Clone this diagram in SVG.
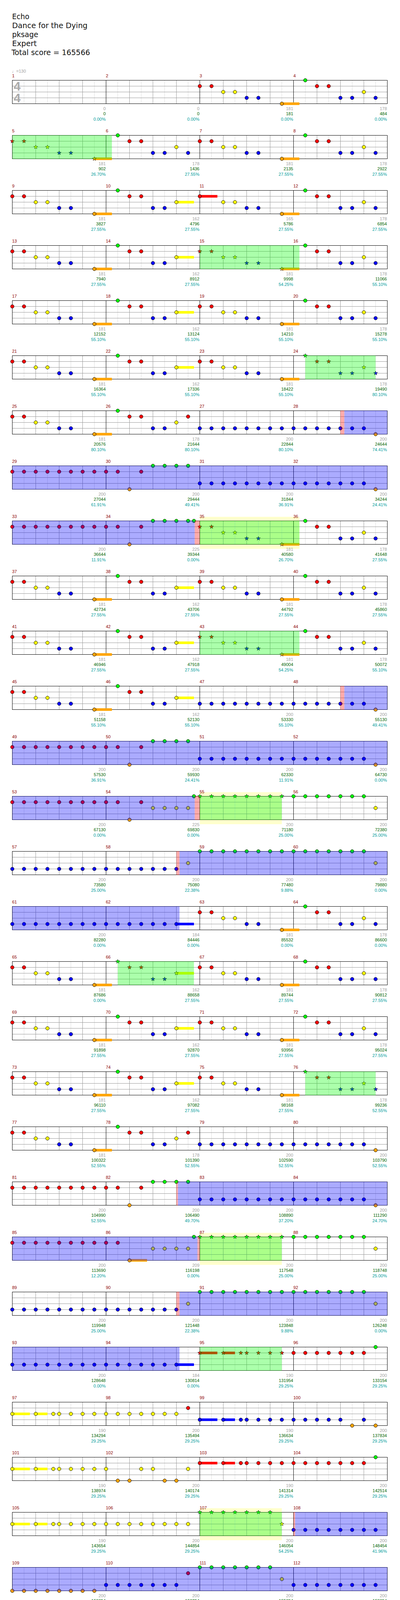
<svg xmlns="http://www.w3.org/2000/svg" width="1024" height="4435" viewBox="0 0 1024 4435">
<style>
circle{stroke:#000;stroke-width:1}
.st{stroke:#000;stroke-width:.7}
.g{fill:#0f0}.r{fill:#f00}.y{fill:#ff0}.b{fill:#00f}.o{fill:#ffa500}
.lt{stroke:#ddd;fill:none}.gr{stroke:#999;fill:none}.bk{stroke:#000;fill:none}
.sp{fill:#0f0;fill-opacity:.33}.so{fill:#00f;fill-opacity:.33}.pk{fill:#f00;fill-opacity:.33}.yb{fill:#ffffcc}
text{font-family:"Liberation Sans",Arial,sans-serif;font-size:11px}
.hd{font-family:"DejaVu Sans Condensed","DejaVu Sans",sans-serif;font-size:20px;fill:#111}
.n{fill:#8b0000}
.a{fill:#a0a0a0;text-anchor:end}
.s{fill:#006400}
.p{fill:#009c9c}
.ts{font-family:"Liberation Sans",Arial,sans-serif;font-weight:bold;font-size:32px;fill:#aaa}
.tp{fill:#a0a0a0}
</style>
<defs>
<circle id="G" r="4.5" class="g"/>
<circle id="R" cy="15" r="4.5" class="r"/>
<circle id="Y" cy="30" r="4.5" class="y"/>
<circle id="B" cy="45" r="4.5" class="b"/>
<circle id="O" cy="60" r="4.5" class="o"/>
<path id="sG" class="st g" d="M0-5.5L1.3-1.8 5.2-1.7 2.1.7 3.2 4.4 0 2.2-3.2 4.4-2.1.7-5.2-1.7-1.3-1.8Z"/>
<path id="sR" class="st r" transform="translate(0 15)" d="M0-5.5L1.3-1.8 5.2-1.7 2.1.7 3.2 4.4 0 2.2-3.2 4.4-2.1.7-5.2-1.7-1.3-1.8Z"/>
<path id="sY" class="st y" transform="translate(0 30)" d="M0-5.5L1.3-1.8 5.2-1.7 2.1.7 3.2 4.4 0 2.2-3.2 4.4-2.1.7-5.2-1.7-1.3-1.8Z"/>
<path id="sB" class="st b" transform="translate(0 45)" d="M0-5.5L1.3-1.8 5.2-1.7 2.1.7 3.2 4.4 0 2.2-3.2 4.4-2.1.7-5.2-1.7-1.3-1.8Z"/>
<path id="sO" class="st o" transform="translate(0 60)" d="M0-5.5L1.3-1.8 5.2-1.7 2.1.7 3.2 4.4 0 2.2-3.2 4.4-2.1.7-5.2-1.7-1.3-1.8Z"/>
<g id="grid4">
<path class="lt" d="M61.5 0V60M121.5 0V60M181.5 0V60M241.5 0V60M301.5 0V60M361.5 0V60M421.5 0V60M481.5 0V60M541.5 0V60M601.5 0V60M661.5 0V60M721.5 0V60M781.5 0V60M841.5 0V60M901.5 0V60M961.5 0V60"/>
<path class="gr" d="M91.5 0V60M151.5 0V60M211.5 0V60M331.5 0V60M391.5 0V60M451.5 0V60M571.5 0V60M631.5 0V60M691.5 0V60M811.5 0V60M871.5 0V60M931.5 0V60M31.5 15H991.5M31.5 30H991.5M31.5 45H991.5"/>
<path class="bk" d="M271.5 0V60M511.5 0V60M751.5 0V60"/>
<rect class="bk" x="31.5" width="960" height="60"/>
</g>
<g id="grid2">
<path class="lt" d="M61.5 0V60M121.5 0V60M181.5 0V60M241.5 0V60M301.5 0V60M361.5 0V60M421.5 0V60M481.5 0V60"/>
<path class="gr" d="M91.5 0V60M151.5 0V60M211.5 0V60M331.5 0V60M391.5 0V60M451.5 0V60M31.5 15H511.5M31.5 30H511.5M31.5 45H511.5"/>
<path class="bk" d="M271.5 0V60"/>
<rect class="bk" x="31.5" width="480" height="60"/>
</g>
<g id="B7"><use href="#B"/><use href="#B" x="30"/><use href="#B" x="60"/><use href="#B" x="90"/><use href="#B" x="120"/><use href="#B" x="150"/><use href="#B" x="180"/></g>
<g id="B8"><use href="#B7"/><use href="#B" x="210"/></g>
<g id="R7"><use href="#R"/><use href="#R" x="30"/><use href="#R" x="60"/><use href="#R" x="90"/><use href="#R" x="120"/><use href="#R" x="150"/><use href="#R" x="180"/></g>
<g id="R8"><use href="#R7"/><use href="#R" x="210"/></g>
<g id="G7"><use href="#G"/><use href="#G" x="30"/><use href="#G" x="60"/><use href="#G" x="90"/><use href="#G" x="120"/><use href="#G" x="150"/><use href="#G" x="180"/></g>
<g id="G8"><use href="#G7"/><use href="#G" x="210"/></g>
<g id="Y7"><use href="#Y"/><use href="#Y" x="30"/><use href="#Y" x="60"/><use href="#Y" x="90"/><use href="#Y" x="120"/><use href="#Y" x="150"/><use href="#Y" x="180"/></g>
<g id="Y8"><use href="#Y7"/><use href="#Y" x="210"/></g>
<g id="O8"><use href="#O"/><use href="#O" x="30"/><use href="#O" x="60"/><use href="#O" x="90"/><use href="#O" x="120"/><use href="#O" x="150"/><use href="#O" x="180"/><use href="#O" x="210"/></g>
<g id="sG7"><use href="#sG"/><use href="#sG" x="30"/><use href="#sG" x="60"/><use href="#sG" x="90"/><use href="#sG" x="120"/><use href="#sG" x="150"/><use href="#sG" x="180"/></g>
<g id="sG8"><use href="#sG7"/><use href="#sG" x="210"/></g>
<g id="P1"><use href="#R"/><use href="#R" x="30"/><use href="#Y" x="60"/><use href="#Y" x="90"/><use href="#B" x="120"/><use href="#B" x="150"/><rect class="o" x="210" y="56.7" width="45" height="6.6"/><use href="#O" x="210"/></g>
<g id="P1L"><use href="#R"/><use href="#R" x="30"/><use href="#Y" x="60"/><use href="#Y" x="90"/><use href="#B" x="120"/><use href="#B" x="150"/><rect class="o" x="210" y="56.7" width="90" height="6.6"/><use href="#O" x="210"/></g>
<g id="P1S"><use href="#sR"/><use href="#sR" x="30"/><use href="#sY" x="60"/><use href="#sY" x="90"/><use href="#sB" x="120"/><use href="#sB" x="150"/><rect class="o" x="210" y="56.7" width="45" height="6.6"/><use href="#sO" x="210"/></g>
<g id="P2"><use href="#G" x="30"/><use href="#R" x="60"/><use href="#R" x="90"/><use href="#B" x="120"/><use href="#B" x="150"/><use href="#Y" x="180"/><use href="#B" x="210"/></g>
<g id="P2S"><use href="#sG" x="30"/><use href="#sR" x="60"/><use href="#sR" x="90"/><use href="#sB" x="120"/><use href="#sB" x="150"/><use href="#sY" x="180"/><use href="#sB" x="210"/></g>
<g id="P3"><use href="#G" x="30"/><use href="#R" x="60"/><use href="#R" x="90"/><use href="#B" x="120"/><use href="#B" x="150"/><rect class="y" x="180" y="26.7" width="45" height="6.6"/><use href="#Y" x="180"/></g>
<g id="P3S"><use href="#sG" x="30"/><use href="#sR" x="60"/><use href="#sR" x="90"/><use href="#sB" x="120"/><use href="#sB" x="150"/><rect class="y" x="180" y="26.7" width="45" height="6.6"/><use href="#sY" x="180"/></g>
<g id="P4"><rect class="r" y="11.7" width="45" height="6.6"/><use href="#R"/><use href="#Y" x="60"/><use href="#Y" x="90"/><use href="#B" x="120"/><use href="#B" x="150"/><rect class="o" x="210" y="56.7" width="45" height="6.6"/><use href="#O" x="210"/></g>
<g id="P5"><use href="#G" x="30"/><use href="#R" x="60"/><use href="#R" x="90"/><use href="#B" x="120"/><use href="#B" x="150"/><use href="#Y" x="180"/><use href="#R" x="210"/></g>
<g id="P9"><use href="#R"/><use href="#R" x="30"/><use href="#O" x="60"/><use href="#R" x="90"/><use href="#G" x="120"/><use href="#G" x="150"/><use href="#G" x="180"/><use href="#G" x="210"/></g>
<g id="P10"><use href="#R"/><use href="#R" x="30"/><use href="#O" x="60"/><use href="#R" x="90"/><use href="#Y" x="120"/><use href="#Y" x="150"/><use href="#Y" x="180"/><use href="#Y" x="210"/><use href="#G" x="225"/></g>
<g id="P15"><use href="#B"/><use href="#B" x="30"/><use href="#B" x="60"/><use href="#B" x="90"/><use href="#B" x="120"/><use href="#B" x="150"/><rect class="b" x="180" y="41.7" width="45" height="6.6"/><use href="#B" x="180"/></g>
<g id="P16"><use href="#R"/><use href="#R" x="30"/><rect class="o" x="60" y="56.7" width="45" height="6.6"/><use href="#O" x="60"/><use href="#Y" x="120"/><use href="#Y" x="150"/><use href="#Y" x="180"/><use href="#Y" x="210"/><use href="#G" x="225"/></g>
<g id="P17"><rect class="r" y="11.7" width="45" height="6.6"/><use href="#sR"/><rect class="r" x="60" y="11.7" width="30" height="6.6"/><use href="#sR" x="60"/><use href="#sR" x="105"/><use href="#sR" x="120"/><use href="#sR" x="150"/><use href="#sR" x="180"/><use href="#sR" x="210"/></g>
<g id="P19"><rect class="y" y="26.7" width="45" height="6.6"/><use href="#Y"/><rect class="y" x="60" y="26.7" width="30" height="6.6"/><use href="#Y" x="60"/><use href="#Y" x="105"/><use href="#Y" x="120"/><use href="#Y" x="150"/><use href="#Y" x="180"/><use href="#Y" x="210"/></g>
<g id="P21"><rect class="b" y="41.7" width="45" height="6.6"/><use href="#B"/><rect class="b" x="60" y="41.7" width="30" height="6.6"/><use href="#B" x="60"/><use href="#B" x="105"/><use href="#B" x="120"/><use href="#B" x="150"/><use href="#B" x="180"/><use href="#B" x="210"/></g>
<g id="P22"><use href="#B"/><use href="#B" x="30"/><use href="#B" x="60"/><use href="#B" x="90"/><use href="#B" x="120"/><use href="#O" x="150"/><use href="#B" x="180"/><use href="#O" x="210"/></g>
<g id="P23"><use href="#Y"/><use href="#O" x="30"/><use href="#O" x="60"/><use href="#Y" x="90"/><use href="#Y" x="120"/><use href="#O" x="150"/><use href="#O" x="180"/><use href="#Y" x="210"/></g>
<g id="P24"><rect class="r" y="11.7" width="45" height="6.6"/><use href="#R"/><rect class="r" x="60" y="11.7" width="30" height="6.6"/><use href="#R" x="60"/><use href="#R" x="105"/><use href="#R" x="120"/><use href="#R" x="150"/><use href="#R" x="180"/><use href="#R" x="210"/></g>
<g id="P29"><use href="#B"/><use href="#B" x="30"/><use href="#B" x="60"/><use href="#B" x="90"/><use href="#B" x="120"/><use href="#Y" x="150"/><use href="#R" x="180"/><use href="#G" x="210"/></g>
</defs>
<rect width="1024" height="4435" fill="#fff"/>
<g id="header">
<text class="hd" x="31" y="49" textLength="44" lengthAdjust="spacingAndGlyphs">Echo</text>
<text class="hd" x="31" y="72" textLength="193" lengthAdjust="spacingAndGlyphs">Dance for the Dying</text>
<text class="hd" x="31" y="95" textLength="67" lengthAdjust="spacingAndGlyphs">pksage</text>
<text class="hd" x="31" y="118" textLength="63" lengthAdjust="spacingAndGlyphs">Expert</text>
<text class="hd" x="29.5" y="141" textLength="201" lengthAdjust="spacingAndGlyphs">Total score = 165566</text>
</g>
<g id="row1" transform="translate(0,205.5)">
<use href="#grid4"/>
<text class="tp" x="30.5" y="-20">♩=130</text>
<text class="ts" x="35" y="26.5">4</text><text class="ts" x="35" y="56.5">4</text>
<g id="m1"><text class="n" x="31" y="-8">1</text><text class="a" x="270.5" y="76">0<tspan class="s" x="270.5" dy="13.5">0</tspan><tspan class="p" x="270.5" dy="13.5">0.00%</tspan></text></g>
<g id="m2"><text class="n" x="271" y="-8">2</text><text class="a" x="510.5" y="76">0<tspan class="s" x="510.5" dy="13.5">0</tspan><tspan class="p" x="510.5" dy="13.5">0.00%</tspan></text></g>
<g id="m3"><use href="#P1" x="511.5"/><text class="n" x="511" y="-8">3</text><text class="a" x="750.5" y="76">181<tspan class="s" x="750.5" dy="13.5">181</tspan><tspan class="p" x="750.5" dy="13.5">0.00%</tspan></text></g>
<g id="m4"><use href="#P2" x="751.5"/><text class="n" x="751" y="-8">4</text><text class="a" x="990.5" y="76">178<tspan class="s" x="990.5" dy="13.5">484</tspan><tspan class="p" x="990.5" dy="13.5">0.00%</tspan></text></g>
</g>
<g id="row2" transform="translate(0,346.5)">
<use href="#grid4"/>
<g id="m5"><use href="#P1S" x="31.5"/><text class="n" x="31" y="-8">5</text><text class="a" x="270.5" y="76">181<tspan class="s" x="270.5" dy="13.5">902</tspan><tspan class="p" x="270.5" dy="13.5">26.70%</tspan></text></g>
<g id="m6"><use href="#P2" x="271.5"/><text class="n" x="271" y="-8">6</text><text class="a" x="510.5" y="76">178<tspan class="s" x="510.5" dy="13.5">1436</tspan><tspan class="p" x="510.5" dy="13.5">27.55%</tspan></text></g>
<g id="m7"><use href="#P1" x="511.5"/><text class="n" x="511" y="-8">7</text><text class="a" x="750.5" y="76">181<tspan class="s" x="750.5" dy="13.5">2135</tspan><tspan class="p" x="750.5" dy="13.5">27.55%</tspan></text></g>
<g id="m8"><use href="#P2" x="751.5"/><text class="n" x="751" y="-8">8</text><text class="a" x="990.5" y="76">178<tspan class="s" x="990.5" dy="13.5">2922</tspan><tspan class="p" x="990.5" dy="13.5">27.55%</tspan></text></g>
<rect class="sp" x="31.5" y="-.5" width="255" height="61"/>
</g>
<g id="row3" transform="translate(0,487.5)">
<use href="#grid4"/>
<g id="m9"><use href="#P1" x="31.5"/><text class="n" x="31" y="-8">9</text><text class="a" x="270.5" y="76">181<tspan class="s" x="270.5" dy="13.5">3827</tspan><tspan class="p" x="270.5" dy="13.5">27.55%</tspan></text></g>
<g id="m10"><use href="#P3" x="271.5"/><text class="n" x="271" y="-8">10</text><text class="a" x="510.5" y="76">162<tspan class="s" x="510.5" dy="13.5">4796</tspan><tspan class="p" x="510.5" dy="13.5">27.55%</tspan></text></g>
<g id="m11"><use href="#P4" x="511.5"/><text class="n" x="511" y="-8">11</text><text class="a" x="750.5" y="76">165<tspan class="s" x="750.5" dy="13.5">5786</tspan><tspan class="p" x="750.5" dy="13.5">27.55%</tspan></text></g>
<g id="m12"><use href="#P2" x="751.5"/><text class="n" x="751" y="-8">12</text><text class="a" x="990.5" y="76">178<tspan class="s" x="990.5" dy="13.5">6854</tspan><tspan class="p" x="990.5" dy="13.5">27.55%</tspan></text></g>
</g>
<g id="row4" transform="translate(0,628.5)">
<use href="#grid4"/>
<g id="m13"><use href="#P1" x="31.5"/><text class="n" x="31" y="-8">13</text><text class="a" x="270.5" y="76">181<tspan class="s" x="270.5" dy="13.5">7940</tspan><tspan class="p" x="270.5" dy="13.5">27.55%</tspan></text></g>
<g id="m14"><use href="#P3" x="271.5"/><text class="n" x="271" y="-8">14</text><text class="a" x="510.5" y="76">162<tspan class="s" x="510.5" dy="13.5">8912</tspan><tspan class="p" x="510.5" dy="13.5">27.55%</tspan></text></g>
<g id="m15"><use href="#P1S" x="511.5"/><text class="n" x="511" y="-8">15</text><text class="a" x="750.5" y="76">181<tspan class="s" x="750.5" dy="13.5">9998</tspan><tspan class="p" x="750.5" dy="13.5">54.25%</tspan></text></g>
<g id="m16"><use href="#P2" x="751.5"/><text class="n" x="751" y="-8">16</text><text class="a" x="990.5" y="76">178<tspan class="s" x="990.5" dy="13.5">11066</tspan><tspan class="p" x="990.5" dy="13.5">55.10%</tspan></text></g>
<rect class="sp" x="511.5" y="-.5" width="255" height="61"/>
</g>
<g id="row5" transform="translate(0,769.5)">
<use href="#grid4"/>
<g id="m17"><use href="#P1" x="31.5"/><text class="n" x="31" y="-8">17</text><text class="a" x="270.5" y="76">181<tspan class="s" x="270.5" dy="13.5">12152</tspan><tspan class="p" x="270.5" dy="13.5">55.10%</tspan></text></g>
<g id="m18"><use href="#P3" x="271.5"/><text class="n" x="271" y="-8">18</text><text class="a" x="510.5" y="76">162<tspan class="s" x="510.5" dy="13.5">13124</tspan><tspan class="p" x="510.5" dy="13.5">55.10%</tspan></text></g>
<g id="m19"><use href="#P1" x="511.5"/><text class="n" x="511" y="-8">19</text><text class="a" x="750.5" y="76">181<tspan class="s" x="750.5" dy="13.5">14210</tspan><tspan class="p" x="750.5" dy="13.5">55.10%</tspan></text></g>
<g id="m20"><use href="#P2" x="751.5"/><text class="n" x="751" y="-8">20</text><text class="a" x="990.5" y="76">178<tspan class="s" x="990.5" dy="13.5">15278</tspan><tspan class="p" x="990.5" dy="13.5">55.10%</tspan></text></g>
</g>
<g id="row6" transform="translate(0,910.5)">
<use href="#grid4"/>
<g id="m21"><use href="#P1" x="31.5"/><text class="n" x="31" y="-8">21</text><text class="a" x="270.5" y="76">181<tspan class="s" x="270.5" dy="13.5">16364</tspan><tspan class="p" x="270.5" dy="13.5">55.10%</tspan></text></g>
<g id="m22"><use href="#P3" x="271.5"/><text class="n" x="271" y="-8">22</text><text class="a" x="510.5" y="76">162<tspan class="s" x="510.5" dy="13.5">17336</tspan><tspan class="p" x="510.5" dy="13.5">55.10%</tspan></text></g>
<g id="m23"><use href="#P1" x="511.5"/><text class="n" x="511" y="-8">23</text><text class="a" x="750.5" y="76">181<tspan class="s" x="750.5" dy="13.5">18422</tspan><tspan class="p" x="750.5" dy="13.5">55.10%</tspan></text></g>
<g id="m24"><use href="#P2S" x="751.5"/><text class="n" x="751" y="-8">24</text><text class="a" x="990.5" y="76">178<tspan class="s" x="990.5" dy="13.5">19490</tspan><tspan class="p" x="990.5" dy="13.5">80.10%</tspan></text></g>
<rect class="sp" x="781.5" y="-.5" width="180" height="61"/>
</g>
<g id="row7" transform="translate(0,1051.5)">
<use href="#grid4"/>
<g id="m25"><use href="#P1" x="31.5"/><text class="n" x="31" y="-8">25</text><text class="a" x="270.5" y="76">181<tspan class="s" x="270.5" dy="13.5">20576</tspan><tspan class="p" x="270.5" dy="13.5">80.10%</tspan></text></g>
<g id="m26"><use href="#P5" x="271.5"/><text class="n" x="271" y="-8">26</text><text class="a" x="510.5" y="76">178<tspan class="s" x="510.5" dy="13.5">21644</tspan><tspan class="p" x="510.5" dy="13.5">80.10%</tspan></text></g>
<g id="m27"><use href="#B8" x="511.5"/><text class="n" x="511" y="-8">27</text><text class="a" x="750.5" y="76">200<tspan class="s" x="750.5" dy="13.5">22844</tspan><tspan class="p" x="750.5" dy="13.5">80.10%</tspan></text></g>
<g id="m28"><use href="#B7" x="751.5"/><use href="#O" x="961.5"/><text class="n" x="751" y="-8">28</text><text class="a" x="990.5" y="76">200<tspan class="s" x="990.5" dy="13.5">24644</tspan><tspan class="p" x="990.5" dy="13.5">74.41%</tspan></text></g>
<rect class="pk" x="871.5" y="-.5" width="10" height="61"/>
<rect class="so" x="881.5" y="-.5" width="110" height="61"/>
</g>
<g id="row8" transform="translate(0,1192.5)">
<use href="#grid4"/>
<g id="m29"><use href="#R8" x="31.5"/><text class="n" x="31" y="-8">29</text><text class="a" x="270.5" y="76">200<tspan class="s" x="270.5" dy="13.5">27044</tspan><tspan class="p" x="270.5" dy="13.5">61.91%</tspan></text></g>
<g id="m30"><use href="#P9" x="271.5"/><text class="n" x="271" y="-8">30</text><text class="a" x="510.5" y="76">200<tspan class="s" x="510.5" dy="13.5">29444</tspan><tspan class="p" x="510.5" dy="13.5">49.41%</tspan></text></g>
<g id="m31"><use href="#B8" x="511.5"/><text class="n" x="511" y="-8">31</text><text class="a" x="750.5" y="76">200<tspan class="s" x="750.5" dy="13.5">31844</tspan><tspan class="p" x="750.5" dy="13.5">36.91%</tspan></text></g>
<g id="m32"><use href="#B7" x="751.5"/><use href="#O" x="961.5"/><text class="n" x="751" y="-8">32</text><text class="a" x="990.5" y="76">200<tspan class="s" x="990.5" dy="13.5">34244</tspan><tspan class="p" x="990.5" dy="13.5">24.41%</tspan></text></g>
<rect class="so" x="31.5" y="-.5" width="960" height="61"/>
</g>
<g id="row9" transform="translate(0,1333.5)">
<rect class="yb" x="511.5" y="-10.5" width="255" height="82"/>
<use href="#grid4"/>
<g id="m33"><use href="#R8" x="31.5"/><text class="n" x="31" y="-8">33</text><text class="a" x="270.5" y="76">200<tspan class="s" x="270.5" dy="13.5">36644</tspan><tspan class="p" x="270.5" dy="13.5">11.91%</tspan></text></g>
<g id="m34"><use href="#P9" x="271.5"/><use href="#G" x="496.5"/><text class="n" x="271" y="-8">34</text><text class="a" x="510.5" y="76">225<tspan class="s" x="510.5" dy="13.5">39344</tspan><tspan class="p" x="510.5" dy="13.5">0.00%</tspan></text></g>
<g id="m35"><use href="#P1S" x="511.5"/><text class="n" x="511" y="-8">35</text><text class="a" x="750.5" y="76">181<tspan class="s" x="750.5" dy="13.5">40580</tspan><tspan class="p" x="750.5" dy="13.5">26.70%</tspan></text></g>
<g id="m36"><use href="#P2" x="751.5"/><text class="n" x="751" y="-8">36</text><text class="a" x="990.5" y="76">178<tspan class="s" x="990.5" dy="13.5">41648</tspan><tspan class="p" x="990.5" dy="13.5">27.55%</tspan></text></g>
<rect class="so" x="31.5" y="-.5" width="467" height="61"/>
<rect class="pk" x="498.5" y="-.5" width="13" height="61"/>
<rect class="sp" x="511.5" y="-.5" width="255" height="61"/>
</g>
<g id="row10" transform="translate(0,1474.5)">
<use href="#grid4"/>
<g id="m37"><use href="#P1" x="31.5"/><text class="n" x="31" y="-8">37</text><text class="a" x="270.5" y="76">181<tspan class="s" x="270.5" dy="13.5">42734</tspan><tspan class="p" x="270.5" dy="13.5">27.55%</tspan></text></g>
<g id="m38"><use href="#P3" x="271.5"/><text class="n" x="271" y="-8">38</text><text class="a" x="510.5" y="76">162<tspan class="s" x="510.5" dy="13.5">43706</tspan><tspan class="p" x="510.5" dy="13.5">27.55%</tspan></text></g>
<g id="m39"><use href="#P1" x="511.5"/><text class="n" x="511" y="-8">39</text><text class="a" x="750.5" y="76">181<tspan class="s" x="750.5" dy="13.5">44792</tspan><tspan class="p" x="750.5" dy="13.5">27.55%</tspan></text></g>
<g id="m40"><use href="#P2" x="751.5"/><text class="n" x="751" y="-8">40</text><text class="a" x="990.5" y="76">178<tspan class="s" x="990.5" dy="13.5">45860</tspan><tspan class="p" x="990.5" dy="13.5">27.55%</tspan></text></g>
</g>
<g id="row11" transform="translate(0,1615.5)">
<use href="#grid4"/>
<g id="m41"><use href="#P1" x="31.5"/><text class="n" x="31" y="-8">41</text><text class="a" x="270.5" y="76">181<tspan class="s" x="270.5" dy="13.5">46946</tspan><tspan class="p" x="270.5" dy="13.5">27.55%</tspan></text></g>
<g id="m42"><use href="#P3" x="271.5"/><text class="n" x="271" y="-8">42</text><text class="a" x="510.5" y="76">162<tspan class="s" x="510.5" dy="13.5">47918</tspan><tspan class="p" x="510.5" dy="13.5">27.55%</tspan></text></g>
<g id="m43"><use href="#P1S" x="511.5"/><text class="n" x="511" y="-8">43</text><text class="a" x="750.5" y="76">181<tspan class="s" x="750.5" dy="13.5">49004</tspan><tspan class="p" x="750.5" dy="13.5">54.25%</tspan></text></g>
<g id="m44"><use href="#P2" x="751.5"/><text class="n" x="751" y="-8">44</text><text class="a" x="990.5" y="76">178<tspan class="s" x="990.5" dy="13.5">50072</tspan><tspan class="p" x="990.5" dy="13.5">55.10%</tspan></text></g>
<rect class="sp" x="511.5" y="-.5" width="255" height="61"/>
</g>
<g id="row12" transform="translate(0,1756.5)">
<use href="#grid4"/>
<g id="m45"><use href="#P1" x="31.5"/><text class="n" x="31" y="-8">45</text><text class="a" x="270.5" y="76">181<tspan class="s" x="270.5" dy="13.5">51158</tspan><tspan class="p" x="270.5" dy="13.5">55.10%</tspan></text></g>
<g id="m46"><use href="#P3" x="271.5"/><text class="n" x="271" y="-8">46</text><text class="a" x="510.5" y="76">162<tspan class="s" x="510.5" dy="13.5">52130</tspan><tspan class="p" x="510.5" dy="13.5">55.10%</tspan></text></g>
<g id="m47"><use href="#B8" x="511.5"/><text class="n" x="511" y="-8">47</text><text class="a" x="750.5" y="76">200<tspan class="s" x="750.5" dy="13.5">53330</tspan><tspan class="p" x="750.5" dy="13.5">55.10%</tspan></text></g>
<g id="m48"><use href="#B7" x="751.5"/><use href="#O" x="961.5"/><text class="n" x="751" y="-8">48</text><text class="a" x="990.5" y="76">200<tspan class="s" x="990.5" dy="13.5">55130</tspan><tspan class="p" x="990.5" dy="13.5">49.41%</tspan></text></g>
<rect class="pk" x="871.5" y="-.5" width="10" height="61"/>
<rect class="so" x="881.5" y="-.5" width="110" height="61"/>
</g>
<g id="row13" transform="translate(0,1897.5)">
<use href="#grid4"/>
<g id="m49"><use href="#R8" x="31.5"/><text class="n" x="31" y="-8">49</text><text class="a" x="270.5" y="76">200<tspan class="s" x="270.5" dy="13.5">57530</tspan><tspan class="p" x="270.5" dy="13.5">36.91%</tspan></text></g>
<g id="m50"><use href="#P9" x="271.5"/><text class="n" x="271" y="-8">50</text><text class="a" x="510.5" y="76">200<tspan class="s" x="510.5" dy="13.5">59930</tspan><tspan class="p" x="510.5" dy="13.5">24.41%</tspan></text></g>
<g id="m51"><use href="#B8" x="511.5"/><text class="n" x="511" y="-8">51</text><text class="a" x="750.5" y="76">200<tspan class="s" x="750.5" dy="13.5">62330</tspan><tspan class="p" x="750.5" dy="13.5">11.91%</tspan></text></g>
<g id="m52"><use href="#B7" x="751.5"/><use href="#O" x="961.5"/><text class="n" x="751" y="-8">52</text><text class="a" x="990.5" y="76">200<tspan class="s" x="990.5" dy="13.5">64730</tspan><tspan class="p" x="990.5" dy="13.5">0.00%</tspan></text></g>
<rect class="so" x="31.5" y="-.5" width="960" height="61"/>
</g>
<g id="row14" transform="translate(0,2038.5)">
<rect class="yb" x="511.5" y="-10.5" width="210" height="82"/>
<use href="#grid4"/>
<g id="m53"><use href="#R8" x="31.5"/><text class="n" x="31" y="-8">53</text><text class="a" x="270.5" y="76">200<tspan class="s" x="270.5" dy="13.5">67130</tspan><tspan class="p" x="270.5" dy="13.5">0.00%</tspan></text></g>
<g id="m54"><use href="#P10" x="271.5"/><text class="n" x="271" y="-8">54</text><text class="a" x="510.5" y="76">225<tspan class="s" x="510.5" dy="13.5">69830</tspan><tspan class="p" x="510.5" dy="13.5">0.00%</tspan></text></g>
<g id="m55"><use href="#sG8" x="511.5"/><text class="n" x="511" y="-8">55</text><text class="a" x="750.5" y="76">200<tspan class="s" x="750.5" dy="13.5">71180</tspan><tspan class="p" x="750.5" dy="13.5">25.00%</tspan></text></g>
<g id="m56"><use href="#G7" x="751.5"/><use href="#Y" x="961.5"/><text class="n" x="751" y="-8">56</text><text class="a" x="990.5" y="76">200<tspan class="s" x="990.5" dy="13.5">72380</tspan><tspan class="p" x="990.5" dy="13.5">25.00%</tspan></text></g>
<rect class="so" x="31.5" y="-.5" width="467" height="61"/>
<rect class="pk" x="498.5" y="-.5" width="13" height="61"/>
<rect class="sp" x="511.5" y="-.5" width="210" height="61"/>
</g>
<g id="row15" transform="translate(0,2179.5)">
<use href="#grid4"/>
<g id="m57"><use href="#B8" x="31.5"/><text class="n" x="31" y="-8">57</text><text class="a" x="270.5" y="76">200<tspan class="s" x="270.5" dy="13.5">73580</tspan><tspan class="p" x="270.5" dy="13.5">25.00%</tspan></text></g>
<g id="m58"><use href="#B7" x="271.5"/><use href="#Y" x="481.5"/><text class="n" x="271" y="-8">58</text><text class="a" x="510.5" y="76">200<tspan class="s" x="510.5" dy="13.5">75080</tspan><tspan class="p" x="510.5" dy="13.5">22.38%</tspan></text></g>
<g id="m59"><use href="#G8" x="511.5"/><text class="n" x="511" y="-8">59</text><text class="a" x="750.5" y="76">200<tspan class="s" x="750.5" dy="13.5">77480</tspan><tspan class="p" x="750.5" dy="13.5">9.88%</tspan></text></g>
<g id="m60"><use href="#G7" x="751.5"/><use href="#Y" x="961.5"/><text class="n" x="751" y="-8">60</text><text class="a" x="990.5" y="76">200<tspan class="s" x="990.5" dy="13.5">79880</tspan><tspan class="p" x="990.5" dy="13.5">0.00%</tspan></text></g>
<rect class="pk" x="451.5" y="-.5" width="8" height="61"/>
<rect class="so" x="459.5" y="-.5" width="532" height="61"/>
</g>
<g id="row16" transform="translate(0,2320.5)">
<use href="#grid4"/>
<g id="m61"><use href="#B8" x="31.5"/><text class="n" x="31" y="-8">61</text><text class="a" x="270.5" y="76">200<tspan class="s" x="270.5" dy="13.5">82280</tspan><tspan class="p" x="270.5" dy="13.5">0.00%</tspan></text></g>
<g id="m62"><use href="#P15" x="271.5"/><text class="n" x="271" y="-8">62</text><text class="a" x="510.5" y="76">184<tspan class="s" x="510.5" dy="13.5">84446</tspan><tspan class="p" x="510.5" dy="13.5">0.00%</tspan></text></g>
<g id="m63"><use href="#P1" x="511.5"/><text class="n" x="511" y="-8">63</text><text class="a" x="750.5" y="76">181<tspan class="s" x="750.5" dy="13.5">85532</tspan><tspan class="p" x="750.5" dy="13.5">0.00%</tspan></text></g>
<g id="m64"><use href="#P2" x="751.5"/><text class="n" x="751" y="-8">64</text><text class="a" x="990.5" y="76">178<tspan class="s" x="990.5" dy="13.5">86600</tspan><tspan class="p" x="990.5" dy="13.5">0.00%</tspan></text></g>
<rect class="so" x="31.5" y="-.5" width="428" height="61"/>
</g>
<g id="row17" transform="translate(0,2461.5)">
<use href="#grid4"/>
<g id="m65"><use href="#P1" x="31.5"/><text class="n" x="31" y="-8">65</text><text class="a" x="270.5" y="76">181<tspan class="s" x="270.5" dy="13.5">87686</tspan><tspan class="p" x="270.5" dy="13.5">0.00%</tspan></text></g>
<g id="m66"><use href="#P3S" x="271.5"/><text class="n" x="271" y="-8">66</text><text class="a" x="510.5" y="76">162<tspan class="s" x="510.5" dy="13.5">88658</tspan><tspan class="p" x="510.5" dy="13.5">27.55%</tspan></text></g>
<g id="m67"><use href="#P1" x="511.5"/><text class="n" x="511" y="-8">67</text><text class="a" x="750.5" y="76">181<tspan class="s" x="750.5" dy="13.5">89744</tspan><tspan class="p" x="750.5" dy="13.5">27.55%</tspan></text></g>
<g id="m68"><use href="#P2" x="751.5"/><text class="n" x="751" y="-8">68</text><text class="a" x="990.5" y="76">178<tspan class="s" x="990.5" dy="13.5">90812</tspan><tspan class="p" x="990.5" dy="13.5">27.55%</tspan></text></g>
<rect class="sp" x="301.5" y="-.5" width="195" height="61"/>
</g>
<g id="row18" transform="translate(0,2602.5)">
<use href="#grid4"/>
<g id="m69"><use href="#P1" x="31.5"/><text class="n" x="31" y="-8">69</text><text class="a" x="270.5" y="76">181<tspan class="s" x="270.5" dy="13.5">91898</tspan><tspan class="p" x="270.5" dy="13.5">27.55%</tspan></text></g>
<g id="m70"><use href="#P3" x="271.5"/><text class="n" x="271" y="-8">70</text><text class="a" x="510.5" y="76">162<tspan class="s" x="510.5" dy="13.5">92870</tspan><tspan class="p" x="510.5" dy="13.5">27.55%</tspan></text></g>
<g id="m71"><use href="#P1" x="511.5"/><text class="n" x="511" y="-8">71</text><text class="a" x="750.5" y="76">181<tspan class="s" x="750.5" dy="13.5">93956</tspan><tspan class="p" x="750.5" dy="13.5">27.55%</tspan></text></g>
<g id="m72"><use href="#P2" x="751.5"/><text class="n" x="751" y="-8">72</text><text class="a" x="990.5" y="76">178<tspan class="s" x="990.5" dy="13.5">95024</tspan><tspan class="p" x="990.5" dy="13.5">27.55%</tspan></text></g>
</g>
<g id="row19" transform="translate(0,2743.5)">
<use href="#grid4"/>
<g id="m73"><use href="#P1" x="31.5"/><text class="n" x="31" y="-8">73</text><text class="a" x="270.5" y="76">181<tspan class="s" x="270.5" dy="13.5">96110</tspan><tspan class="p" x="270.5" dy="13.5">27.55%</tspan></text></g>
<g id="m74"><use href="#P3" x="271.5"/><text class="n" x="271" y="-8">74</text><text class="a" x="510.5" y="76">162<tspan class="s" x="510.5" dy="13.5">97082</tspan><tspan class="p" x="510.5" dy="13.5">27.55%</tspan></text></g>
<g id="m75"><use href="#P1" x="511.5"/><text class="n" x="511" y="-8">75</text><text class="a" x="750.5" y="76">181<tspan class="s" x="750.5" dy="13.5">98168</tspan><tspan class="p" x="750.5" dy="13.5">27.55%</tspan></text></g>
<g id="m76"><use href="#P2S" x="751.5"/><text class="n" x="751" y="-8">76</text><text class="a" x="990.5" y="76">178<tspan class="s" x="990.5" dy="13.5">99236</tspan><tspan class="p" x="990.5" dy="13.5">52.55%</tspan></text></g>
<rect class="sp" x="781.5" y="-.5" width="180" height="61"/>
</g>
<g id="row20" transform="translate(0,2884.5)">
<use href="#grid4"/>
<g id="m77"><use href="#P1" x="31.5"/><text class="n" x="31" y="-8">77</text><text class="a" x="270.5" y="76">181<tspan class="s" x="270.5" dy="13.5">100322</tspan><tspan class="p" x="270.5" dy="13.5">52.55%</tspan></text></g>
<g id="m78"><use href="#P5" x="271.5"/><text class="n" x="271" y="-8">78</text><text class="a" x="510.5" y="76">178<tspan class="s" x="510.5" dy="13.5">101390</tspan><tspan class="p" x="510.5" dy="13.5">52.55%</tspan></text></g>
<g id="m79"><use href="#B8" x="511.5"/><text class="n" x="511" y="-8">79</text><text class="a" x="750.5" y="76">200<tspan class="s" x="750.5" dy="13.5">102590</tspan><tspan class="p" x="750.5" dy="13.5">52.55%</tspan></text></g>
<g id="m80"><use href="#B7" x="751.5"/><use href="#O" x="961.5"/><text class="n" x="751" y="-8">80</text><text class="a" x="990.5" y="76">200<tspan class="s" x="990.5" dy="13.5">103790</tspan><tspan class="p" x="990.5" dy="13.5">52.55%</tspan></text></g>
</g>
<g id="row21" transform="translate(0,3025.5)">
<use href="#grid4"/>
<g id="m81"><use href="#R8" x="31.5"/><text class="n" x="31" y="-8">81</text><text class="a" x="270.5" y="76">200<tspan class="s" x="270.5" dy="13.5">104990</tspan><tspan class="p" x="270.5" dy="13.5">52.55%</tspan></text></g>
<g id="m82"><use href="#P9" x="271.5"/><text class="n" x="271" y="-8">82</text><text class="a" x="510.5" y="76">200<tspan class="s" x="510.5" dy="13.5">106490</tspan><tspan class="p" x="510.5" dy="13.5">49.70%</tspan></text></g>
<g id="m83"><use href="#B8" x="511.5"/><text class="n" x="511" y="-8">83</text><text class="a" x="750.5" y="76">200<tspan class="s" x="750.5" dy="13.5">108890</tspan><tspan class="p" x="750.5" dy="13.5">37.20%</tspan></text></g>
<g id="m84"><use href="#B7" x="751.5"/><use href="#O" x="961.5"/><text class="n" x="751" y="-8">84</text><text class="a" x="990.5" y="76">200<tspan class="s" x="990.5" dy="13.5">111290</tspan><tspan class="p" x="990.5" dy="13.5">24.70%</tspan></text></g>
<rect class="pk" x="451.5" y="-.5" width="4" height="61"/>
<rect class="so" x="455.5" y="-.5" width="536" height="61"/>
</g>
<g id="row22" transform="translate(0,3166.5)">
<rect class="yb" x="511.5" y="-10.5" width="210" height="82"/>
<use href="#grid4"/>
<g id="m85"><use href="#R8" x="31.5"/><text class="n" x="31" y="-8">85</text><text class="a" x="270.5" y="76">200<tspan class="s" x="270.5" dy="13.5">113690</tspan><tspan class="p" x="270.5" dy="13.5">12.20%</tspan></text></g>
<g id="m86"><use href="#P16" x="271.5"/><text class="n" x="271" y="-8">86</text><text class="a" x="510.5" y="76">209<tspan class="s" x="510.5" dy="13.5">116198</tspan><tspan class="p" x="510.5" dy="13.5">0.00%</tspan></text></g>
<g id="m87"><use href="#sG8" x="511.5"/><text class="n" x="511" y="-8">87</text><text class="a" x="750.5" y="76">200<tspan class="s" x="750.5" dy="13.5">117548</tspan><tspan class="p" x="750.5" dy="13.5">25.00%</tspan></text></g>
<g id="m88"><use href="#G7" x="751.5"/><use href="#Y" x="961.5"/><text class="n" x="751" y="-8">88</text><text class="a" x="990.5" y="76">200<tspan class="s" x="990.5" dy="13.5">118748</tspan><tspan class="p" x="990.5" dy="13.5">25.00%</tspan></text></g>
<rect class="so" x="31.5" y="-.5" width="474" height="61"/>
<rect class="pk" x="505.5" y="-.5" width="6" height="61"/>
<rect class="sp" x="511.5" y="-.5" width="210" height="61"/>
</g>
<g id="row23" transform="translate(0,3307.5)">
<use href="#grid4"/>
<g id="m89"><use href="#B8" x="31.5"/><text class="n" x="31" y="-8">89</text><text class="a" x="270.5" y="76">200<tspan class="s" x="270.5" dy="13.5">119948</tspan><tspan class="p" x="270.5" dy="13.5">25.00%</tspan></text></g>
<g id="m90"><use href="#B7" x="271.5"/><use href="#Y" x="481.5"/><text class="n" x="271" y="-8">90</text><text class="a" x="510.5" y="76">200<tspan class="s" x="510.5" dy="13.5">121448</tspan><tspan class="p" x="510.5" dy="13.5">22.38%</tspan></text></g>
<g id="m91"><use href="#G8" x="511.5"/><text class="n" x="511" y="-8">91</text><text class="a" x="750.5" y="76">200<tspan class="s" x="750.5" dy="13.5">123848</tspan><tspan class="p" x="750.5" dy="13.5">9.88%</tspan></text></g>
<g id="m92"><use href="#G7" x="751.5"/><use href="#Y" x="961.5"/><text class="n" x="751" y="-8">92</text><text class="a" x="990.5" y="76">200<tspan class="s" x="990.5" dy="13.5">126248</tspan><tspan class="p" x="990.5" dy="13.5">0.00%</tspan></text></g>
<rect class="pk" x="451.5" y="-.5" width="8" height="61"/>
<rect class="so" x="459.5" y="-.5" width="532" height="61"/>
</g>
<g id="row24" transform="translate(0,3448.5)">
<use href="#grid4"/>
<g id="m93"><use href="#B8" x="31.5"/><text class="n" x="31" y="-8">93</text><text class="a" x="270.5" y="76">200<tspan class="s" x="270.5" dy="13.5">128648</tspan><tspan class="p" x="270.5" dy="13.5">0.00%</tspan></text></g>
<g id="m94"><use href="#P15" x="271.5"/><text class="n" x="271" y="-8">94</text><text class="a" x="510.5" y="76">184<tspan class="s" x="510.5" dy="13.5">130814</tspan><tspan class="p" x="510.5" dy="13.5">0.00%</tspan></text></g>
<g id="m95"><use href="#P17" x="511.5"/><text class="n" x="511" y="-8">95</text><text class="a" x="750.5" y="76">190<tspan class="s" x="750.5" dy="13.5">131954</tspan><tspan class="p" x="750.5" dy="13.5">29.25%</tspan></text></g>
<g id="m96"><use href="#R7" x="751.5"/><use href="#G" x="961.5"/><text class="n" x="751" y="-8">96</text><text class="a" x="990.5" y="76">200<tspan class="s" x="990.5" dy="13.5">133154</tspan><tspan class="p" x="990.5" dy="13.5">29.25%</tspan></text></g>
<rect class="so" x="31.5" y="-.5" width="428" height="61"/>
<rect class="sp" x="511.5" y="-.5" width="210" height="61"/>
</g>
<g id="row25" transform="translate(0,3589.5)">
<use href="#grid4"/>
<g id="m97"><use href="#P19" x="31.5"/><text class="n" x="31" y="-8">97</text><text class="a" x="270.5" y="76">190<tspan class="s" x="270.5" dy="13.5">134294</tspan><tspan class="p" x="270.5" dy="13.5">29.25%</tspan></text></g>
<g id="m98"><use href="#Y7" x="271.5"/><use href="#R" x="481.5"/><text class="n" x="271" y="-8">98</text><text class="a" x="510.5" y="76">200<tspan class="s" x="510.5" dy="13.5">135494</tspan><tspan class="p" x="510.5" dy="13.5">29.25%</tspan></text></g>
<g id="m99"><use href="#P21" x="511.5"/><text class="n" x="511" y="-8">99</text><text class="a" x="750.5" y="76">190<tspan class="s" x="750.5" dy="13.5">136634</tspan><tspan class="p" x="750.5" dy="13.5">29.25%</tspan></text></g>
<g id="m100"><use href="#P22" x="751.5"/><text class="n" x="751" y="-8">100</text><text class="a" x="990.5" y="76">200<tspan class="s" x="990.5" dy="13.5">137834</tspan><tspan class="p" x="990.5" dy="13.5">29.25%</tspan></text></g>
</g>
<g id="row26" transform="translate(0,3730.5)">
<use href="#grid4"/>
<g id="m101"><use href="#P19" x="31.5"/><text class="n" x="31" y="-8">101</text><text class="a" x="270.5" y="76">190<tspan class="s" x="270.5" dy="13.5">138974</tspan><tspan class="p" x="270.5" dy="13.5">29.25%</tspan></text></g>
<g id="m102"><use href="#P23" x="271.5"/><text class="n" x="271" y="-8">102</text><text class="a" x="510.5" y="76">200<tspan class="s" x="510.5" dy="13.5">140174</tspan><tspan class="p" x="510.5" dy="13.5">29.25%</tspan></text></g>
<g id="m103"><use href="#P24" x="511.5"/><text class="n" x="511" y="-8">103</text><text class="a" x="750.5" y="76">190<tspan class="s" x="750.5" dy="13.5">141314</tspan><tspan class="p" x="750.5" dy="13.5">29.25%</tspan></text></g>
<g id="m104"><use href="#R7" x="751.5"/><use href="#G" x="961.5"/><text class="n" x="751" y="-8">104</text><text class="a" x="990.5" y="76">200<tspan class="s" x="990.5" dy="13.5">142514</tspan><tspan class="p" x="990.5" dy="13.5">29.25%</tspan></text></g>
</g>
<g id="row27" transform="translate(0,3871.5)">
<rect class="yb" x="511.5" y="-10.5" width="210" height="82"/>
<use href="#grid4"/>
<g id="m105"><use href="#P19" x="31.5"/><text class="n" x="31" y="-8">105</text><text class="a" x="270.5" y="76">190<tspan class="s" x="270.5" dy="13.5">143654</tspan><tspan class="p" x="270.5" dy="13.5">29.25%</tspan></text></g>
<g id="m106"><use href="#Y8" x="271.5"/><text class="n" x="271" y="-8">106</text><text class="a" x="510.5" y="76">200<tspan class="s" x="510.5" dy="13.5">144854</tspan><tspan class="p" x="510.5" dy="13.5">29.25%</tspan></text></g>
<g id="m107"><use href="#sG7" x="511.5"/><use href="#sY" x="721.5"/><text class="n" x="511" y="-8">107</text><text class="a" x="750.5" y="76">200<tspan class="s" x="750.5" dy="13.5">146054</tspan><tspan class="p" x="750.5" dy="13.5">54.25%</tspan></text></g>
<g id="m108"><use href="#B8" x="751.5"/><text class="n" x="751" y="-8">108</text><text class="a" x="990.5" y="76">200<tspan class="s" x="990.5" dy="13.5">148454</tspan><tspan class="p" x="990.5" dy="13.5">41.96%</tspan></text></g>
<rect class="sp" x="511.5" y="-.5" width="210" height="61"/>
<rect class="pk" x="751.5" y="-.5" width="4" height="61"/>
<rect class="so" x="755.5" y="-.5" width="236" height="61"/>
</g>
<g id="row28" transform="translate(0,4012.5)">
<use href="#grid4"/>
<g id="m109"><use href="#O8" x="31.5"/><text class="n" x="31" y="-8">109</text><text class="a" x="270.5" y="76">200<tspan class="s" x="270.5" dy="13.5">150854</tspan><tspan class="p" x="270.5" dy="13.5">29.46%</tspan></text></g>
<g id="m110"><use href="#B7" x="271.5"/><use href="#R" x="481.5"/><text class="n" x="271" y="-8">110</text><text class="a" x="510.5" y="76">200<tspan class="s" x="510.5" dy="13.5">153254</tspan><tspan class="p" x="510.5" dy="13.5">16.96%</tspan></text></g>
<g id="m111"><use href="#G7" x="511.5"/><use href="#Y" x="721.5"/><text class="n" x="511" y="-8">111</text><text class="a" x="750.5" y="76">200<tspan class="s" x="750.5" dy="13.5">155654</tspan><tspan class="p" x="750.5" dy="13.5">4.46%</tspan></text></g>
<g id="m112"><use href="#B8" x="751.5"/><text class="n" x="751" y="-8">112</text><text class="a" x="990.5" y="76">200<tspan class="s" x="990.5" dy="13.5">158054</tspan><tspan class="p" x="990.5" dy="13.5">0.00%</tspan></text></g>
<rect class="so" x="31.5" y="-.5" width="960" height="61"/>
</g>
<g id="row29" transform="translate(0,4153.5)">
<use href="#grid4"/>
<g id="m113"><use href="#O8" x="31.5"/><text class="n" x="31" y="-8">113</text><text class="a" x="270.5" y="76">200<tspan class="s" x="270.5" dy="13.5">160454</tspan><tspan class="p" x="270.5" dy="13.5">0.00%</tspan></text></g>
<g id="m114"><use href="#P29" x="271.5"/><text class="n" x="271" y="-8">114</text><text class="a" x="510.5" y="76">200<tspan class="s" x="510.5" dy="13.5">162254</tspan><tspan class="p" x="510.5" dy="13.5">0.00%</tspan></text></g>
<g id="m115"><use href="#P1" x="511.5"/><text class="n" x="511" y="-8">115</text><text class="a" x="750.5" y="76">181<tspan class="s" x="750.5" dy="13.5">163340</tspan><tspan class="p" x="750.5" dy="13.5">0.00%</tspan></text></g>
<g id="m116"><use href="#P2" x="751.5"/><text class="n" x="751" y="-8">116</text><text class="a" x="990.5" y="76">178<tspan class="s" x="990.5" dy="13.5">164408</tspan><tspan class="p" x="990.5" dy="13.5">0.00%</tspan></text></g>
<rect class="so" x="31.5" y="-.5" width="325" height="61"/>
<rect class="pk" x="356.5" y="-.5" width="5" height="61"/>
</g>
<g id="row30" transform="translate(0,4294.5)">
<use href="#grid2"/>
<g id="m117"><use href="#P1L" x="31.5"/><text class="n" x="31" y="-8">117</text><text class="a" x="270.5" y="76">181<tspan class="s" x="270.5" dy="13.5">165494</tspan><tspan class="p" x="270.5" dy="13.5">0.00%</tspan></text></g>
<g id="m118"><text class="n" x="271" y="-8">118</text><text class="a" x="510.5" y="76">12<tspan class="s" x="510.5" dy="13.5">165566</tspan><tspan class="p" x="510.5" dy="13.5">0.00%</tspan></text></g>
</g>
</svg>
